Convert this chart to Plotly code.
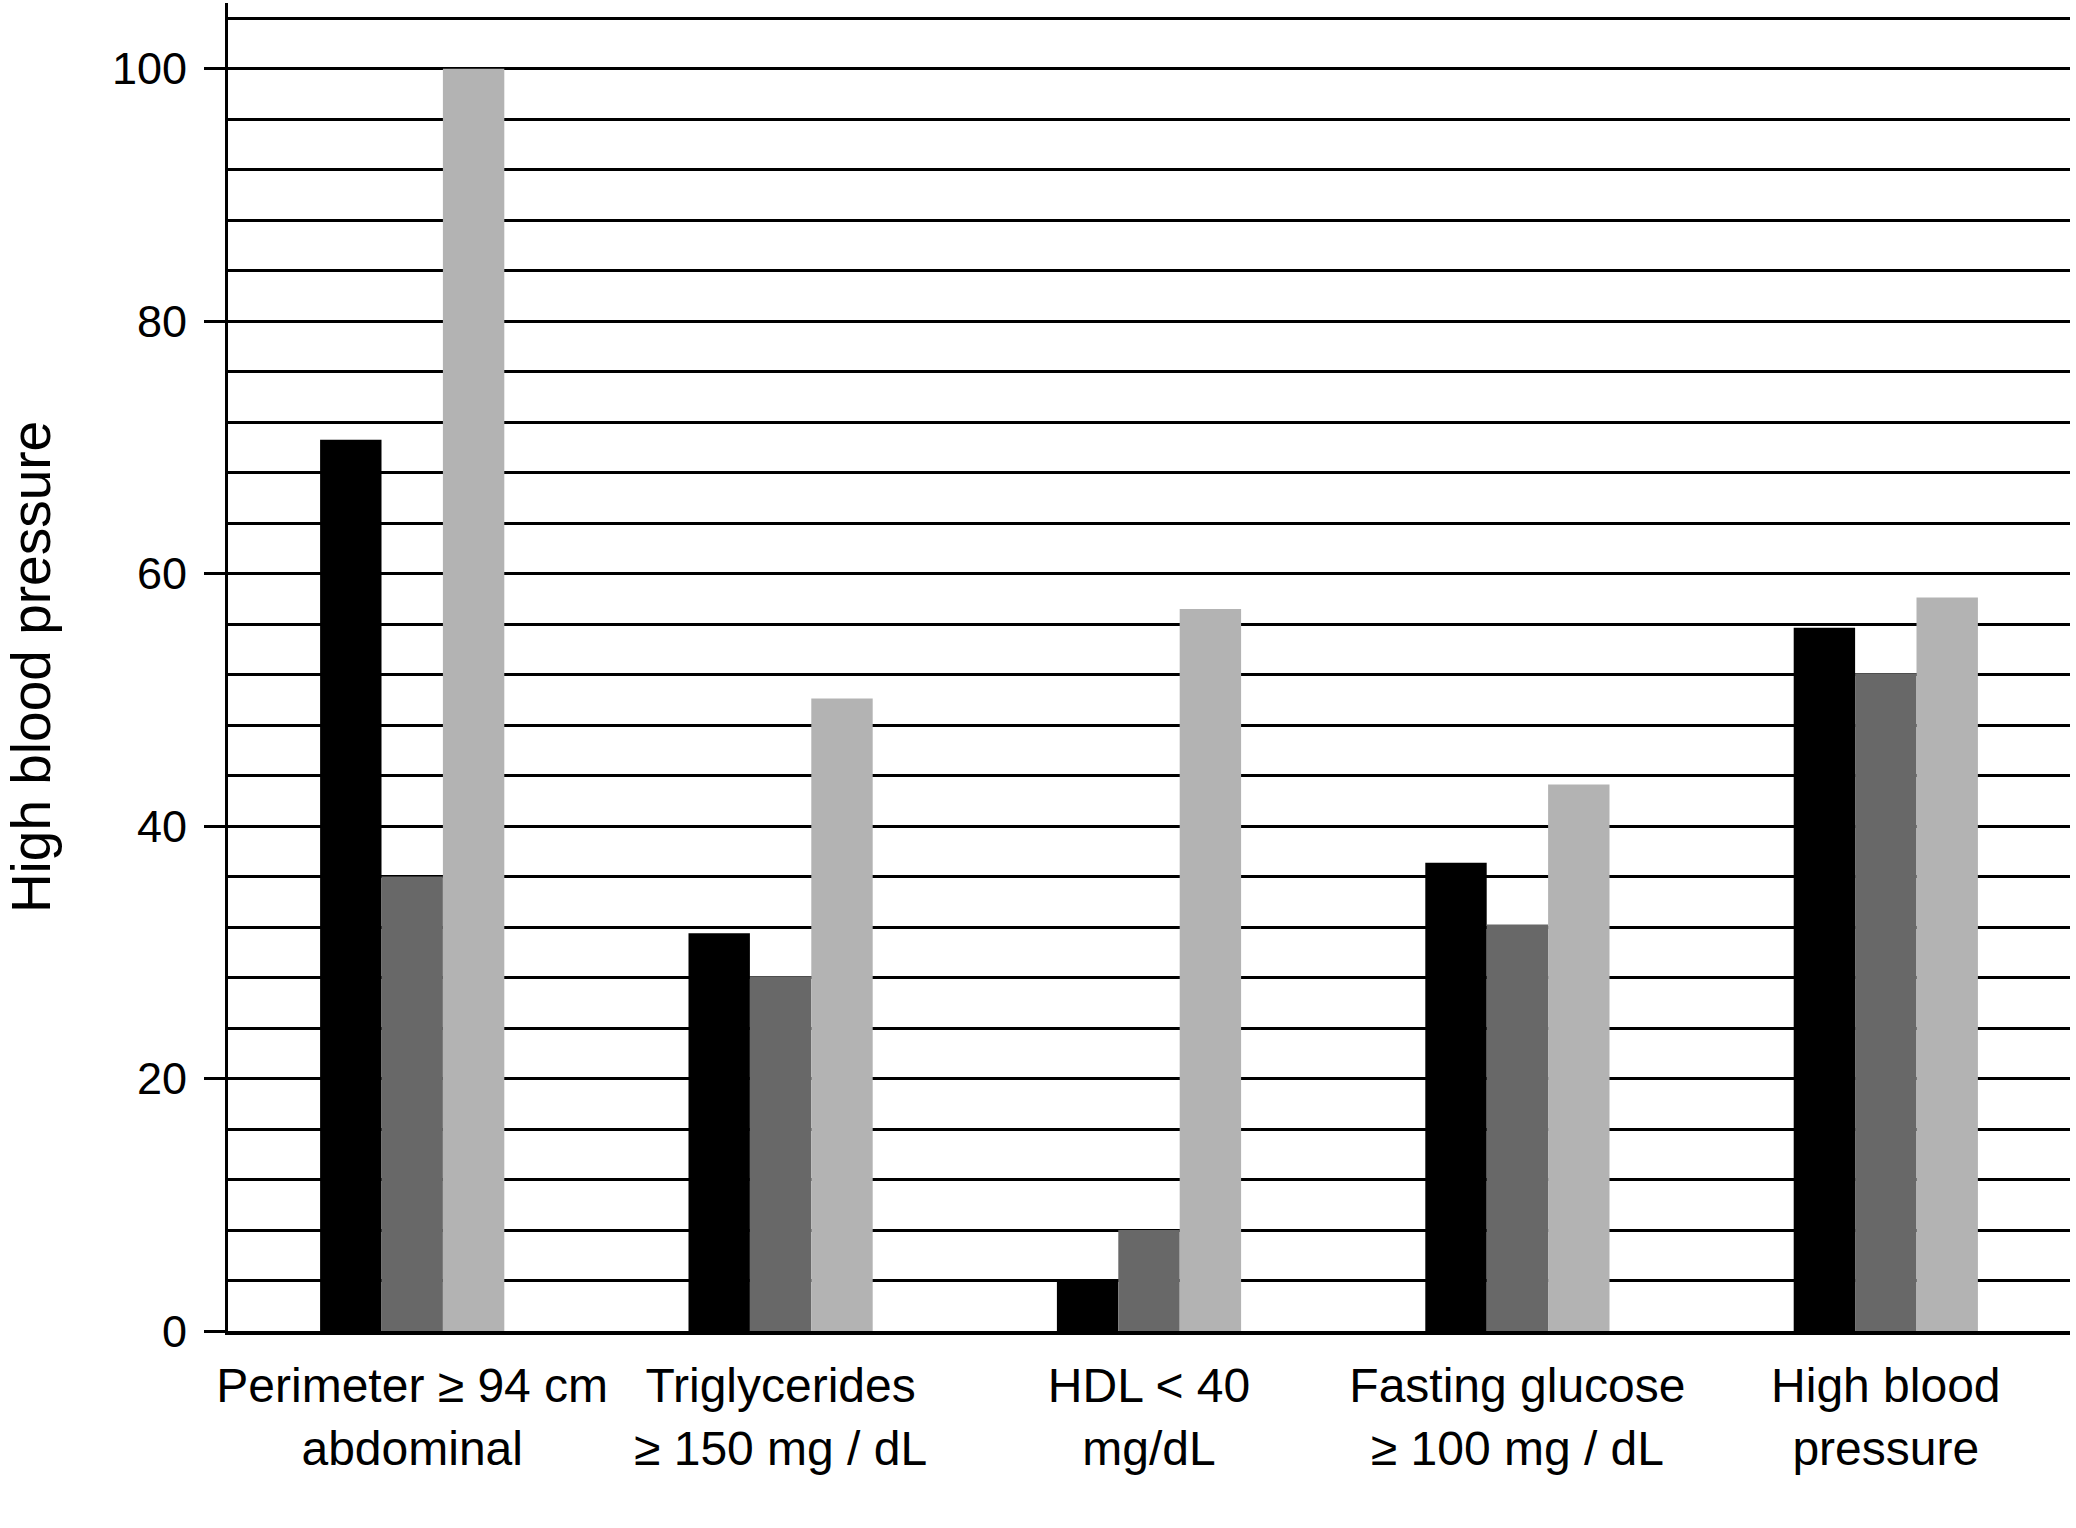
import plotly.graph_objects as go

categories = [
    "Perimeter ≥ 94 cm<br>abdominal",
    "Triglycerides<br>≥ 150 mg / dL",
    "HDL < 40<br>mg/dL",
    "Fasting glucose<br>≥ 100 mg / dL",
    "High blood<br>pressure",
]
series_black = [70.6, 31.5, 4.0, 37.1, 55.7]
series_dark = [36.0, 28.1, 8.0, 32.2, 52.1]
series_light = [100.0, 50.1, 57.2, 43.3, 58.1]
y_tick_values = [0, 20, 40, 60, 80, 100]
y_title = "High blood pressure"

FONT = "Liberation Sans, Arial, Helvetica, sans-serif"

fig = go.Figure()
for name, vals, col in [
    ("Group 1", series_black, "#000000"),
    ("Group 2", series_dark, "#686868"),
    ("Group 3", series_light, "#b3b3b3"),
]:
    fig.add_trace(go.Bar(x=categories, y=vals, name=name, marker=dict(color=col, line=dict(width=0))))

fig.update_layout(
    width=2076,
    height=1528,
    margin=dict(l=228, r=6, t=3, b=197),
    paper_bgcolor="white",
    plot_bgcolor="white",
    barmode="group",
    bargap=0.5,
    bargroupgap=0,
    showlegend=False,
    font=dict(family=FONT, color="black"),
)
fig.update_xaxes(
    range=[-0.5, 4.5],
    showline=True,
    linecolor="black",
    linewidth=3.5,
    ticks="",
    showgrid=False,
    zeroline=False,
    tickfont=dict(size=48, family=FONT, color="black"),
    ticklabelstandoff=10,
)
fig.update_yaxes(
    range=[0, 105.2],
    tickvals=y_tick_values,
    showline=True,
    linecolor="black",
    linewidth=3,
    ticks="outside",
    ticklen=21,
    tickwidth=3,
    tickcolor="black",
    showgrid=True,
    gridcolor="black",
    gridwidth=2.6,
    minor=dict(dtick=4, showgrid=True, gridcolor="black", gridwidth=2.6, ticks=""),
    zeroline=False,
    tickfont=dict(size=45, family=FONT, color="black"),
    ticklabelstandoff=8,
    title=dict(text=y_title, font=dict(size=55, family=FONT, color="black"), standoff=58),
)

fig.write_html(
    "out.html",
    config={"displayModeBar": False},
    post_script="document.body.style.margin='0px';document.body.style.overflow='hidden';",
)
